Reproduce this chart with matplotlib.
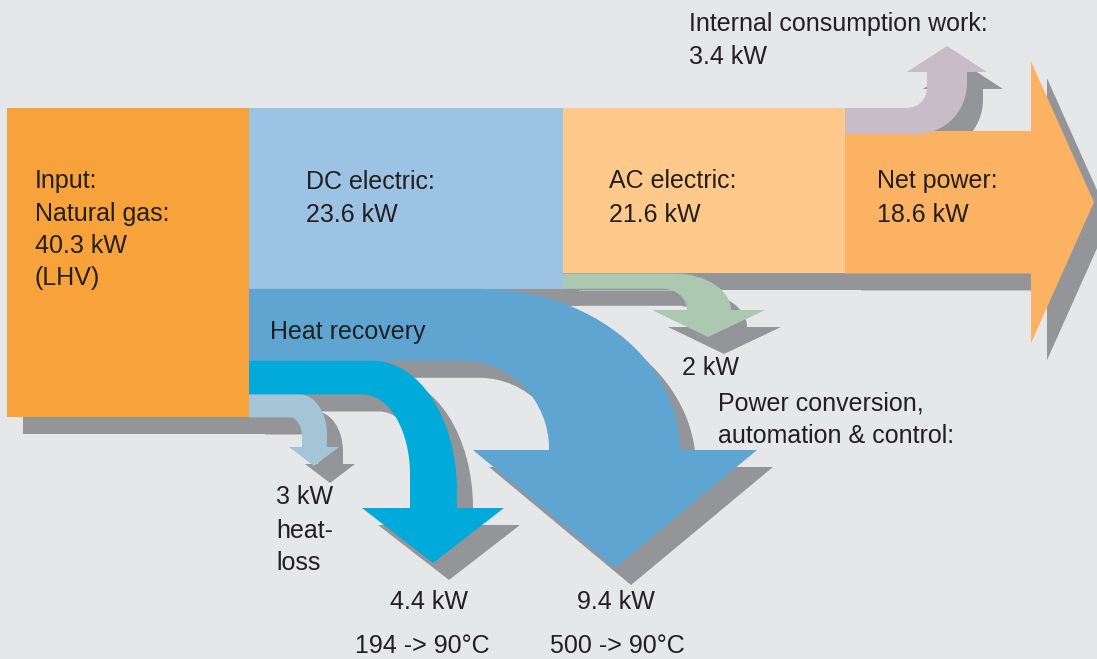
import matplotlib.pyplot as plt
from matplotlib.path import Path
from matplotlib.patches import PathPatch
from matplotlib import transforms

plt.rcParams['font.family'] = ['Liberation Sans', 'DejaVu Sans']

# energy balance of the fuel cell system (kW)
stages = ['Input: Natural gas (LHV)', 'DC electric', 'AC electric', 'Net power']
stage_kw = [40.3, 23.6, 21.6, 18.6]
losses = ['Internal consumption work', 'Power conversion, automation & control',
          'Heat recovery 500 -> 90°C', 'Heat recovery 194 -> 90°C', 'heat-loss']
loss_kw = [3.4, 2.0, 9.4, 4.4, 3.0]
temps_in = [500, 194]
temps_out = [90, 90]

BG = '#e6e7e8'
SHADOW = '#939598'
TXT = '#231f20'
K = 7.66      # px per kW
Y0 = 108
SH = (16, 17)  # shadow offset
KAP = 0.5523

fig = plt.figure(figsize=(10.97, 6.59), dpi=100)
fig.patch.set_facecolor(BG)
ax = fig.add_axes([0, 0, 1, 1])
ax.set_xlim(0, 1097)
ax.set_ylim(659, 0)
ax.axis('off')

M, L, C, Z = Path.MOVETO, Path.LINETO, Path.CURVE4, Path.CLOSEPOLY


def rect(x0, x1, y0, y1):
    return Path([(x0, y0), (x1, y0), (x1, y1), (x0, y1), (x0, y0)], [M, L, L, L, Z])


def turn_arrow(x0, y_out, y_in, out_arc, in_arc, base, head, tip):
    xo, rxo, ryo = out_arc
    xi, rxi, ryi = in_arc
    v = [(x0, y_out), (xo, y_out),
         (xo + KAP * rxo, y_out), (xo + rxo, y_out + ryo * (1 - KAP)), (xo + rxo, y_out + ryo),
         (xo + rxo, base), (head[1], base), tip, (head[0], base), (xi + rxi, base),
         (xi + rxi, y_in + ryi),
         (xi + rxi, y_in + ryi * (1 - KAP)), (xi + KAP * rxi, y_in), (xi, y_in),
         (x0, y_in), (x0, y_out)]
    c = [M, L, C, C, C, L, L, L, L, L, L, C, C, C, L, Z]
    return Path(v, c)


# stacked band edges from the values
in_bot = Y0 + stage_kw[0] * K
dc_bot = Y0 + stage_kw[1] * K
hr_bot = dc_bot + loss_kw[2] * K
cy_bot = hr_bot + loss_kw[3] * K
hl_bot = cy_bot + loss_kw[4] * K
ac_bot = Y0 + stage_kw[2] * K
pu_bot = Y0 + loss_kw[0] * K
net_top = ac_bot - stage_kw[3] * K
gr_bot = ac_bot + loss_kw[1] * K
net_mid = (net_top + ac_bot) / 2

shapes = [
    (rect(7, 249, Y0, in_bot), '#f8a23b'),
    (rect(249, 563, Y0, dc_bot), '#9cc3e4'),
    (rect(563, 845, Y0, ac_bot), '#fec98b'),
    (turn_arrow(249, dc_bot, hr_bot, (480, 200, 450 - dc_bot), (463, 86, 88),
                450, (473, 757), (615, 568)), '#5fa5d1'),
    (turn_arrow(249, hr_bot, cy_bot, (373, 84, 130), (363, 47, 80),
                508, (362, 504), (433, 563)), '#00abdc'),
    (turn_arrow(249, cy_bot, hl_bot, (300, 27, 40), (290, 12, 19),
                447, (289, 339), (314, 466)), '#a5c4d6'),
    (turn_arrow(563, ac_bot, gr_bot, (673, 58, 310 - ac_bot), (663, 24, 310 - gr_bot),
                310, (652, 765), (708, 337)), '#adc8b0'),
    (Path([(845, net_top), (1031, net_top), (1031, net_mid - 141), (1094, net_mid),
           (1031, net_mid + 141), (1031, ac_bot), (845, ac_bot), (845, net_top)],
          [M, L, L, L, L, L, L, Z]), '#fbb262'),
    (turn_arrow(845, pu_bot, Y0, (917, 50, 83 - pu_bot), (907, 20, -20),
                72, (907, 987), (947, 46)), '#c8bcc6'),
]

shift = transforms.Affine2D().translate(*SH) + ax.transData
for p, col in shapes:
    ax.add_patch(PathPatch(p, facecolor=SHADOW, edgecolor='none', transform=shift))
for p, col in shapes:
    ax.add_patch(PathPatch(p, facecolor=col, edgecolor='none'))

FS = 18
def lab(s, x, y, ha='left'):
    ax.text(x, y, s, fontsize=FS, color=TXT, ha=ha, va='baseline')

kw = [f'{v:g} kW' for v in stage_kw]
lab('Input:', 35, 188)
lab('Natural gas:', 35, 220.5)
lab(kw[0], 35, 253)
lab('(LHV)', 35, 285.5)
lab('DC electric:', 306, 189)
lab(kw[1], 306, 221.5)
lab('AC electric:', 609, 188)
lab(kw[2], 609, 221.5)
lab('Net power:', 877, 188)
lab(kw[3], 877, 221.5)
lab('Internal consumption work:', 689, 31.5)
lab(f'{loss_kw[0]:g} kW', 689, 64)
lab('Heat recovery', 270, 339)
lab(f'{loss_kw[1]:g} kW', 682, 375)
lab('Power conversion,', 718, 410)
lab('automation & control:', 718, 443)
lab(f'{loss_kw[4]:g} kW', 276, 504)
lab('heat-', 276, 537.5)
lab('loss', 276, 570)
lab(f'{loss_kw[3]:g} kW', 429, 609, 'center')
lab(f'{temps_in[1]} -> {temps_out[1]}°C', 422, 653, 'center')
lab(f'{loss_kw[2]:g} kW', 616, 609, 'center')
lab(f'{temps_in[0]} -> {temps_out[0]}°C', 617, 653, 'center')

fig.savefig('out.png', dpi=100, facecolor=BG)
